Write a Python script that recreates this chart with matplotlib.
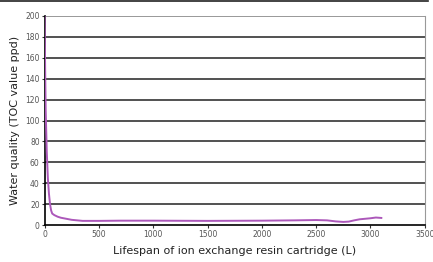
import matplotlib
matplotlib.use("Agg")
import matplotlib.pyplot as plt
from matplotlib.lines import Line2D

volume = [0, 5, 10, 20, 30, 40, 50, 60, 70, 90, 120, 150, 200, 250, 300, 350, 400, 500, 700,
          1000, 1500, 2000, 2300, 2500, 2600, 2680, 2750, 2800, 2850, 2900, 3000, 3050, 3100]
toc = [200, 150, 110, 70, 45, 30, 20, 14, 11, 9.5, 8, 7, 6, 5, 4.5, 4, 4, 4, 4.2,
       4.2, 4, 4.2, 4.5, 4.8, 4.5, 3.5, 3, 3.3, 4.5, 5.5, 6.5, 7.2, 6.8]

xticks = [0, 500, 1000, 1500, 2000, 2500, 3000, 3500]
yticks = [0, 20, 40, 60, 80, 100, 120, 140, 160, 180, 200]

fig = plt.figure(figsize=(4.33, 2.62), dpi=100)
ax = fig.add_axes([0.103, 0.141, 0.878, 0.798])

for y in yticks[1:]:
    ax.axhline(y, color="#888888" if y == 200 else "#333333", lw=1.2, zorder=1)

ax.plot(volume, toc, color="#AC58BA", lw=1.4, zorder=3)

ax.set_xlim(0, 3500)
ax.set_ylim(0, 200)
ax.set_xticks(xticks)
ax.set_yticks(yticks)
ax.tick_params(labelsize=5.5, colors="#333333", length=2.5, width=0.8, pad=1)
for lab in ax.get_xticklabels() + ax.get_yticklabels():
    lab.set_color("#555555")

ax.spines["left"].set_color("black")
ax.spines["left"].set_linewidth(1.2)
ax.spines["bottom"].set_color("black")
ax.spines["bottom"].set_linewidth(1.2)
ax.spines["right"].set_color("#999999")
ax.spines["top"].set_visible(False)

ax.set_xlabel("Lifespan of ion exchange resin cartridge (L)", fontsize=8, color="#222222", labelpad=5)
ax.set_ylabel("Water quality (TOC value ppd)", fontsize=8, color="#222222", labelpad=4)

fig.add_artist(Line2D([0, 428 / 433], [1 - 1 / 262, 1 - 1 / 262], color="#222222", lw=1.2,
                      transform=fig.transFigure))

fig.savefig("out.png", dpi=100)
